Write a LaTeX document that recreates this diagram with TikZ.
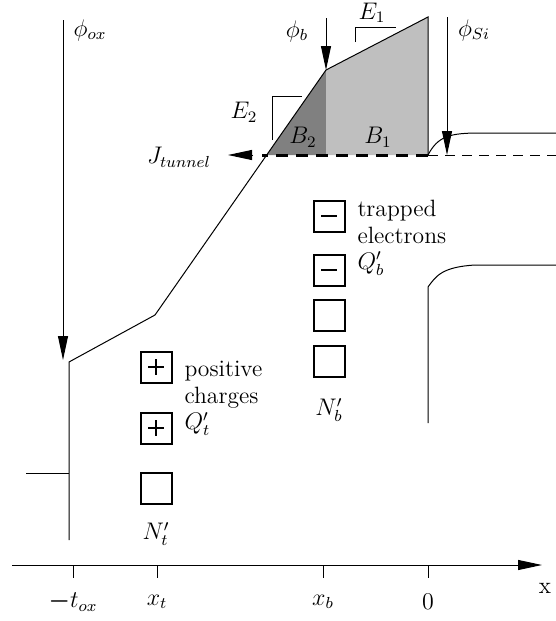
\documentclass[tikz,border=0pt]{standalone}
\usepackage{amsmath,amssymb}
\usepackage{tikz}
\usetikzlibrary{arrows.meta, positioning, calc}
\definecolor{barrdark}{gray}{0.5}
\definecolor{barrlight}{gray}{0.75}

\begin{document}
\begin{tikzpicture}[x=0.5pt, y=-0.5pt, font=\fontsize{11.8}{12.5}\selectfont, line width=0.5pt,
    >={Triangle[length=12pt,width=5pt]},
    trapbox/.style={draw, line width=1pt, minimum size=15.5pt, inner sep=0pt},
    sign/.style={line width=1.3pt},
    note/.style={inner sep=0pt, anchor=north west, align=left, font=\fontsize{11.8}{13.2}\selectfont},
    lbl/.style={inner sep=0pt}]
    \useasboundingbox (0,0) rectangle (556,621);
    \def\xt{156}
    \def\xb{329}
    \def\yf{155}
    % band points
    \coordinate (g0) at (26,473);
    \coordinate (g1) at (69,473);
    \coordinate (ox0) at (69,540);
    \coordinate (ox1) at (69,362);
    \coordinate (kt) at (155,315);
    \coordinate (cr) at (266.7,\yf);
    \coordinate (pk) at (326,70);
    \coordinate (pkf) at (326,\yf);
    \coordinate (tp) at (428,17);
    \coordinate (ef) at (428,\yf);
    \coordinate (efr) at (556,\yf);
    \coordinate (dl) at (262,\yf);
    \coordinate (j0) at (253,\yf);
    \coordinate (j1) at (228,\yf);
    \coordinate (cb) at (480,133);
    \coordinate (cbr) at (556,133);
    \coordinate (vb0) at (428,423);
    \coordinate (vb1) at (428,287);
    \coordinate (vb) at (475,265);
    \coordinate (vbr) at (556,265);
    % barrier areas
    \fill[barrdark] (cr) -- (pk) -- (pkf) -- cycle;
    \fill[barrlight] (pkf) -- (pk) -- (tp) -- (ef) -- cycle;
    \draw (g0) -- (g1);
    \draw (ox0) -- (ox1) -- (kt) -- (pk) -- (tp) -- (ef);
    \draw[line width=1.5pt, dash pattern=on 6pt off 4pt] (ef) -- (dl);
    \draw[dash pattern=on 5pt off 3.5pt] (ef) -- (efr);
    \draw[->] (j0) -- (j1);
    \draw (ef) .. controls (438,136) and (450,133) .. (cb) -- (cbr);
    \draw (vb0) -- (vb1) .. controls (436,276) and (442,267) .. (vb) -- (vbr);
    % potentials
    \coordinate (aox) at (63,20);
    \coordinate (aoxe) at (63,360);
    \coordinate (ab) at (326,18);
    \coordinate (asi) at (447,17);
    \coordinate (asie) at (447,\yf);
    \draw[->] (aox) -- (aoxe);
    \draw[->] (ab) -- (pk);
    \draw[->] (asi) -- (asie);
    \node[lbl] (phiox) at (90,30) {$\phi_{ox}$};
    \node[lbl] (phib) at (297,31) {$\phi_b$};
    \node[lbl] (phisi) at (474,30) {$\phi_{Si}$};
    % fields
    \draw (355,42) -- (355,27) -- (396,27);
    \draw (272,140) -- (272,96) -- (302,96);
    \node[lbl] (e1) at (372,13) {$E_1$};
    \node[lbl] (e2) at (244,112) {$E_2$};
    \node[lbl] (b2) at (303,137) {$B_2$};
    \node[lbl] (b1) at (378,137) {$B_1$};
    \node[lbl] (jt) at (179,157) {$J_{tunnel}$};
    % traps
    \node[trapbox] (t1) at (\xt,367) {};
    \node[trapbox] (t2) at (\xt,428) {};
    \node[trapbox] (t3) at (\xt,488) {};
    \foreach \t in {t1,t2} {
        \draw[sign] ($(\t)+(-8,0)$) -- ($(\t)+(8,0)$);
        \draw[sign] ($(\t)+(0,-8)$) -- ($(\t)+(0,8)$);
    }
    \node[lbl] (nt) at (\xt,534) {$N'_t$};
    \node[note] (qt) at (184,361) {positive\\charges\\$Q'_t$};
    \node[trapbox] (b1t) at (\xb,216) {};
    \node[trapbox] (b2t) at (\xb,270) {};
    \node[trapbox] (b3t) at (\xb,315) {};
    \node[trapbox] (b4t) at (\xb,361) {};
    \foreach \t in {b1t,b2t} {
        \draw[sign] ($(\t)+(-8,0)$) -- ($(\t)+(8,0)$);
    }
    \node[lbl] (nb) at (\xb,410) {$N'_b$};
    \node[note] (qb) at (357,200) {trapped\\electrons\\$Q'_b$};
    % axis
    \coordinate (x0) at (12,565);
    \coordinate (x1) at (542,565);
    \draw[->] (x0) -- (x1);
    \node[lbl] (xl) at (545,588) {x};
    \foreach \px/\txt in {73/{$\boldsymbol{-}t_{ox}$}, 157/{$x_t$}, 323/{$x_b$}, 428/{$0$}} {
        \draw (\px,565) -- (\px,578);
        \node[lbl] at (\px,602) {\txt};
    }
\end{tikzpicture}
\end{document}
